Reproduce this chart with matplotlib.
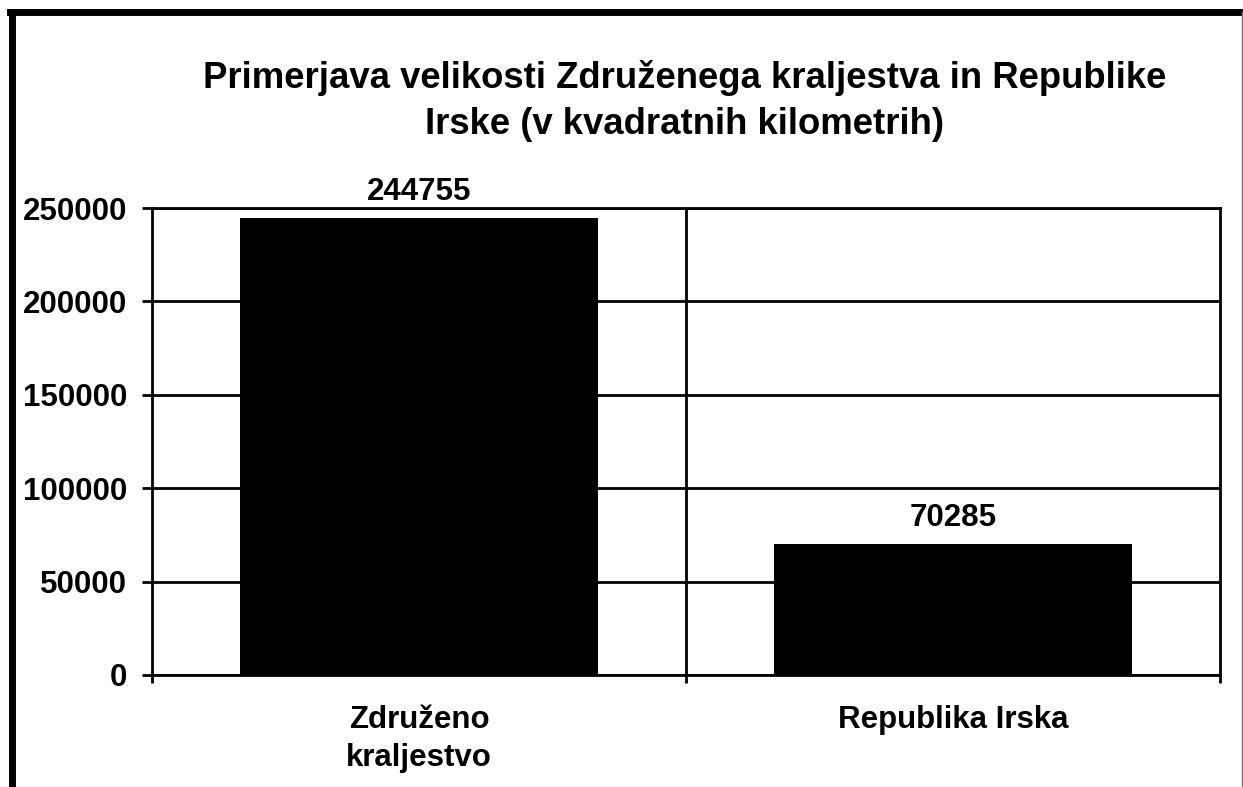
import matplotlib
matplotlib.use("Agg")
import matplotlib.pyplot as plt
from matplotlib.lines import Line2D

categories = ["Združeno\nkraljestvo", "Republika Irska"]
values = [244755, 70285]
yticks = [0, 50000, 100000, 150000, 200000, 250000]
title = "Primerjava velikosti Združenega kraljestva in Republike\nIrske (v kvadratnih kilometrih)"

plt.rcParams['font.family'] = ['Liberation Sans', 'DejaVu Sans']
W, H = 1243, 787
fig = plt.figure(figsize=(W/100, H/100), dpi=100)
fig.patch.set_facecolor('white')

FS = 22.5
ax = fig.add_axes([152/W, (H-675)/H, 1068/W, 467/H])
x = list(range(len(categories)))
ax.bar(x, values, width=0.67, color='black', zorder=3)
ax.set_xlim(-0.5, len(categories)-0.5)
ax.set_ylim(0, 250000)
ax.set_yticks(yticks)
ax.set_yticklabels([str(t) for t in yticks], fontsize=FS, fontweight='bold')
ax.tick_params(axis='y', direction='out', length=7, width=2, pad=11)
ax.set_xticks([i - 0.5 for i in range(len(categories)+1)])
ax.set_xticklabels([])
ax.tick_params(axis='x', direction='out', length=6, width=2)
for i, c in enumerate(categories):
    ax.text(i, -0.065, c, transform=ax.get_xaxis_transform(), ha='center', va='top',
            fontsize=FS, fontweight='bold', linespacing=1.32)
ax.yaxis.grid(True, color='black', linewidth=2, zorder=1)
for b in [i + 0.5 for i in range(len(categories)-1)]:
    ax.axvline(b, color='black', linewidth=2, zorder=1)
for s in ax.spines.values():
    s.set_linewidth(2)
for i, v in enumerate(values):
    ax.annotate(str(v), (i, v), xytext=(0, 8), textcoords='offset points',
                ha='center', va='bottom', fontsize=FS, fontweight='bold')

fig.text(685/W, 1 - 60/H, title, ha='center', va='top', fontsize=26.3,
         fontweight='bold', linespacing=1.4)

# outer border
fig.add_artist(Line2D([12/W, 12/W], [0, 1-12/H], color='black', linewidth=5, transform=fig.transFigure))
fig.add_artist(Line2D([9.5/W, 1241/W], [1-12/H, 1-12/H], color='black', linewidth=5, transform=fig.transFigure))
fig.add_artist(Line2D([1241.5/W, 1241.5/W], [0, 1-12/H], color='#777777', linewidth=1, transform=fig.transFigure))

fig.savefig("out.png", dpi=100, facecolor='white')
